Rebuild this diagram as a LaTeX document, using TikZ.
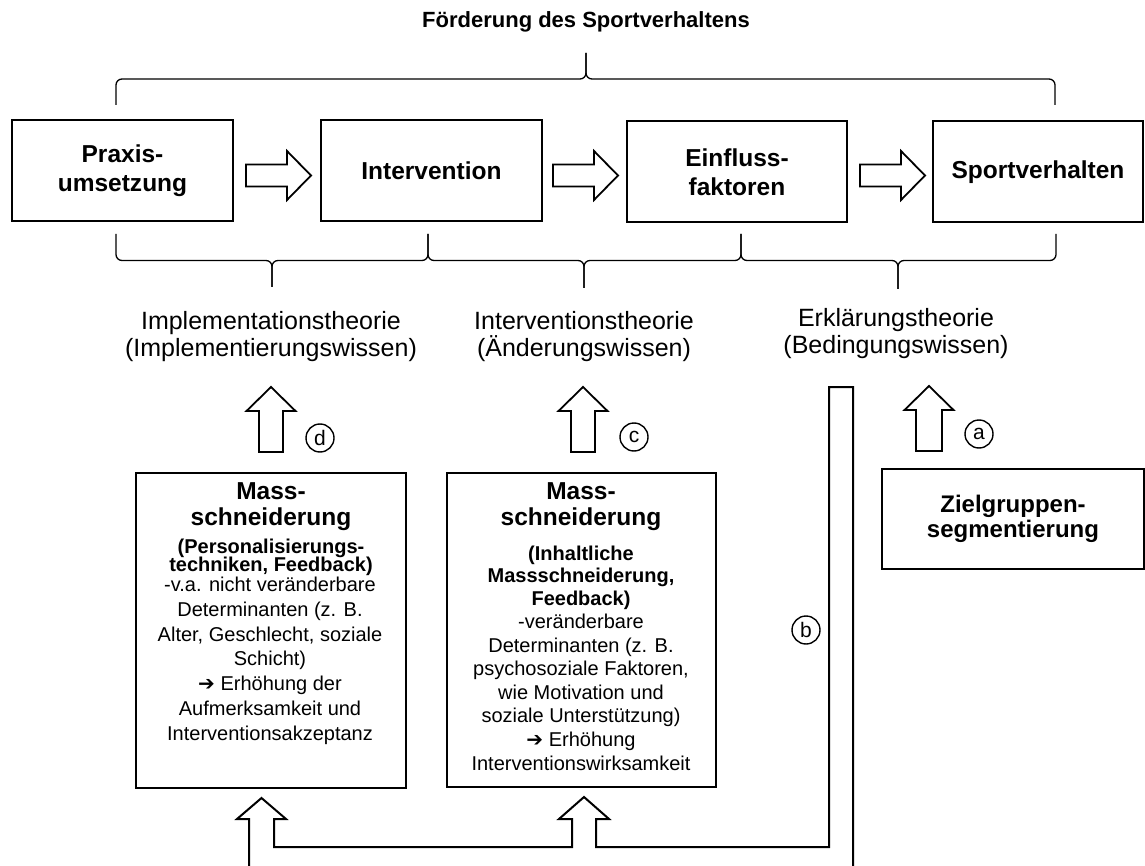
\documentclass[tikz,border=0pt]{standalone}
\usepackage{fontspec}
\setmainfont{Liberation Sans}
\newfontfamily\dejavu{DejaVu Sans}
\newcommand\harr{{\dejavu\symbol{"2794}}}
\newcommand\tls{\lineskiplimit-100pt\relax\lineskip0pt\relax}
\begin{document}
\begin{tikzpicture}[x=1pt,y=-1pt,
  box/.style={draw, line width=2pt, inner sep=0pt},
  brace/.style={draw, line width=1.3pt, rounded corners=6pt},
  barrow/.style={draw, line width=1.8pt, fill=white, line join=miter},
  conn/.style={draw, line width=2pt, line join=miter},
  circ/.style={draw, circle, line width=1.4pt, minimum size=28pt, inner sep=0pt, font=\fontsize{21}{21}\selectfont},
  big/.style={font=\fontsize{24.5}{28.5}\selectfont\bfseries\tls, align=center},
  mbig/.style={font=\fontsize{24.5}{26}\selectfont\bfseries\tls, align=center},
  theory/.style={font=\fontsize{25}{26.7}\selectfont\tls, align=center},
  sub/.style={font=\fontsize{20}{18}\selectfont\bfseries\tls, align=center},
  subm/.style={font=\fontsize{20}{22.5}\selectfont\bfseries\tls, align=center},
  body/.style={font=\fontsize{20}{24.7}\selectfont\tls, align=center},
  bodym/.style={font=\fontsize{20}{23.6}\selectfont\tls, align=center},
  zfont/.style={font=\fontsize{24}{25}\selectfont\bfseries\tls, align=center}]
\useasboundingbox (0,0) rectangle (1145,866);
\fill[white] (0,0) rectangle (1145,866);

% title
\node[font=\fontsize{22}{25}\selectfont\bfseries] (title) at (586,22) {Förderung des Sportverhaltens};

% top brace
\draw[brace] (116,105) -- (116,79) -- (586,79) -- (586,53);
\draw[brace] (1055,105) -- (1055,79) -- (586,79) -- (586,53);

% top boxes
\node[box, big, minimum width=221pt, minimum height=101pt] (praxis) at (122.5,170.5) {Praxis-\\umsetzung};
\node[box, big, minimum width=221pt, minimum height=101pt] (interv) at (431.5,170.5) {Intervention};
\node[box, big, minimum width=220pt, minimum height=101pt] (einfl) at (737,172) {Einfluss-\\faktoren};
\node[box, big, minimum width=210pt, minimum height=101pt] (sport) at (1038,172) {Sportverhalten};

% horizontal block arrows
\draw[barrow] (246,164.5) -- (287,164.5) -- (287,151) -- (311,175.5) -- (287,200) -- (287,186.5) -- (246,186.5) -- cycle;
\draw[barrow] (553,164.5) -- (594,164.5) -- (594,151) -- (618,175.5) -- (594,200) -- (594,186.5) -- (553,186.5) -- cycle;
\draw[barrow] (860,164.5) -- (901,164.5) -- (901,151) -- (925,175.5) -- (901,200) -- (901,186.5) -- (860,186.5) -- cycle;

% bottom braces
\draw[brace] (116,234) -- (116,260.5) -- (272,260.5) -- (272,287);
\draw[brace] (428,234) -- (428,260.5) -- (272,260.5) -- (272,287);
\draw[brace] (428,234) -- (428,260.5) -- (584,260.5) -- (584,288);
\draw[brace] (741,234) -- (741,260.5) -- (584,260.5) -- (584,288);
\draw[brace] (741,234) -- (741,260.5) -- (898,260.5) -- (898,289);
\draw[brace] (1056,234) -- (1056,260.5) -- (898,260.5) -- (898,289);

% theory labels (base = last line)
\node[theory, anchor=base] (impl) at (271,356.5) {Implementationstheorie\\(Implementierungswissen)};
\node[theory, anchor=base] (intth) at (584,356.5) {Interventionstheorie\\(Änderungswissen)};
\node[theory, anchor=base] (erkl) at (896,353.5) {Erklärungstheorie\\(Bedingungswissen)};

% up arrows
\draw[barrow] (259,452) -- (259,411) -- (246.5,411) -- (271,387) -- (295.5,411) -- (283,411) -- (283,452) -- cycle;
\draw[barrow] (571,452) -- (571,411) -- (558.5,411) -- (583,387) -- (607.5,411) -- (595,411) -- (595,452) -- cycle;
\draw[barrow] (916,451) -- (916,410) -- (904.5,410) -- (929,386) -- (953.5,410) -- (942,410) -- (942,451) -- cycle;

% circled letters
\node[circ] (cd) at (320,438) {d};
\node[circ] (cc) at (634,437) {c};
\node[circ] (ca) at (979,434) {a};
\node[circ] (cb) at (806,630) {b};

% lower boxes
\node[box, minimum width=270pt, minimum height=315pt] (mL) at (271,630.5) {};
\node[box, minimum width=269pt, minimum height=314pt] (mM) at (581.5,630) {};
\node[box, zfont, minimum width=262pt, minimum height=100pt] (ziel) at (1013,519) {Zielgruppen-\\segmentierung};

% left box text (anchor base = last line)
\node[mbig, anchor=base] (mLt) at (271,525) {Mass-\\schneiderung};
\node[sub, anchor=base] (mLs) at (271,571) {(Personalisierungs-\\techniken, Feedback)};
\node[body, anchor=base] (mLb) at (270,740) {-v.a. nicht veränderbare\\Determinanten (z. B.\\Alter, Geschlecht, soziale\\Schicht)\\\harr{} Erhöhung der\\Aufmerksamkeit und\\Interventionsakzeptanz};

% middle box text
\node[mbig, anchor=base] (mMt) at (581,525) {Mass-\\schneiderung};
\node[subm, anchor=base] (mMs) at (581,605) {(Inhaltliche\\Massschneiderung,\\Feedback)};
\node[bodym, anchor=base] (mMb) at (581,770) {-veränderbare\\Determinanten (z. B.\\psychosoziale Faktoren,\\wie Motivation und\\soziale Unterstützung)\\\harr{} Erhöhung\\Interventionswirksamkeit};

% bottom connector outline
\draw[conn] (249,866) -- (249,819) -- (237,819) -- (261.5,798) -- (286,819) -- (274,819) -- (274,847)
  -- (572,847) -- (572,819) -- (559,819) -- (584,797) -- (609,819) -- (596,819) -- (596,847)
  -- (829,847) -- (829,387) -- (853,387) -- (853,866);
\end{tikzpicture}
\end{document}
